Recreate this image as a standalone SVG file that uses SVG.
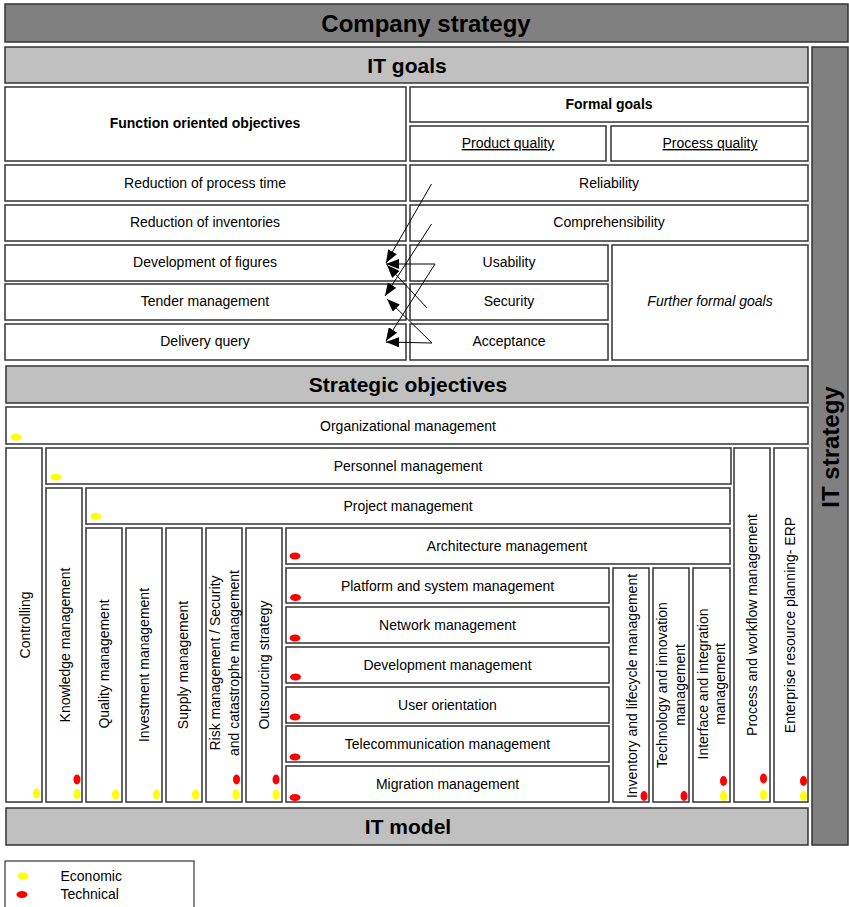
<svg xmlns="http://www.w3.org/2000/svg" width="849" height="907" viewBox="0 0 849 907">
  <style>
    .box { fill: #ffffff; stroke: #333333; stroke-width: 1.5; }
    .dark { fill: #808080; stroke: #333333; stroke-width: 1.5; }
    .light { fill: #c0c0c0; stroke: #333333; stroke-width: 1.5; }
    text { font-family: "Liberation Sans", Arial, sans-serif; font-size: 14px; fill: #000000; text-anchor: middle; }
    .head { font-weight: bold; font-size: 21px; }
    .big { font-weight: bold; font-size: 24px; }
    .sub { font-weight: bold; font-size: 14px; }
    .ul { text-decoration: underline; }
    .it { font-style: italic; }
    .legend { text-anchor: start; }
    .eco { fill: #ffff00; }
    .tec { fill: #ff0000; }
    .conn line { stroke: #000000; stroke-width: 1; marker-end: url(#arrow); }
  </style>
  <defs>
    <marker id="arrow" markerUnits="userSpaceOnUse" markerWidth="14" markerHeight="10" refX="13" refY="5" orient="auto">
      <path d="M0,0 L13,5 L0,10 Z" fill="#000000"/>
    </marker>
  </defs>

  <!-- frame bands -->
  <g id="company-strategy">
    <rect class="dark" x="5" y="4" width="843" height="38"/>
    <text class="big" x="426" y="31.5">Company strategy</text>
  </g>
  <g id="it-goals">
    <rect class="light" x="5" y="47" width="803" height="36"/>
    <text class="head" x="407" y="72.5">IT goals</text>
  </g>
  <g id="it-strategy">
    <rect class="dark" x="812" y="47" width="36" height="798"/>
    <text class="big" transform="translate(838.5,447) rotate(-90)">IT strategy</text>
  </g>

  <!-- goal headers -->
  <g id="function-objectives">
    <rect class="box" x="5" y="87" width="401" height="74"/>
    <text class="sub" x="205" y="128">Function oriented objectives</text>
  </g>
  <g id="formal-goals">
    <rect class="box" x="410" y="87" width="398" height="35"/>
    <text class="sub" x="609" y="109">Formal goals</text>
  </g>
  <g id="product-quality">
    <rect class="box" x="410" y="126" width="196" height="35"/>
    <text class="ul" x="508" y="148">Product quality</text>
  </g>
  <g id="process-quality">
    <rect class="box" x="611" y="126" width="197" height="35"/>
    <text class="ul" x="710" y="148">Process quality</text>
  </g>

  <!-- function oriented objectives -->
  <g id="process-time">
    <rect class="box" x="5" y="165" width="401" height="36"/>
    <text x="205" y="188">Reduction of process time</text>
  </g>
  <g id="inventories">
    <rect class="box" x="5" y="205" width="401" height="36"/>
    <text x="205" y="227">Reduction of inventories</text>
  </g>
  <g id="figures">
    <rect class="box" x="5" y="245" width="401" height="36"/>
    <text x="205" y="267">Development of figures</text>
  </g>
  <g id="tender">
    <rect class="box" x="5" y="284" width="401" height="36"/>
    <text x="205" y="306">Tender management</text>
  </g>
  <g id="delivery">
    <rect class="box" x="5" y="324" width="401" height="36"/>
    <text x="205" y="346">Delivery query</text>
  </g>

  <!-- formal goals -->
  <g id="reliability">
    <rect class="box" x="410" y="165" width="398" height="36"/>
    <text x="609" y="188">Reliability</text>
  </g>
  <g id="comprehensibility">
    <rect class="box" x="410" y="205" width="398" height="36"/>
    <text x="609" y="227">Comprehensibility</text>
  </g>
  <g id="usability">
    <rect class="box" x="410" y="245" width="198" height="36"/>
    <text x="509" y="267">Usability</text>
  </g>
  <g id="security">
    <rect class="box" x="410" y="284" width="198" height="36"/>
    <text x="509" y="306">Security</text>
  </g>
  <g id="acceptance">
    <rect class="box" x="410" y="324" width="198" height="36"/>
    <text x="509" y="346">Acceptance</text>
  </g>
  <g id="further-goals">
    <rect class="box" x="612" y="245" width="196" height="115"/>
    <text class="it" x="710" y="306">Further formal goals</text>
  </g>

  <!-- connectors -->
  <g id="connectors" class="conn">
    <line x1="431.5" y1="184" x2="386" y2="263"/>
    <line x1="431.5" y1="224" x2="385" y2="296"/>
    <line x1="435" y1="264" x2="386" y2="264"/>
    <line x1="435" y1="264" x2="386" y2="341"/>
    <line x1="427" y1="308" x2="387" y2="265"/>
    <line x1="432" y1="343" x2="386" y2="342"/>
    <line x1="432" y1="343" x2="387" y2="299"/>
  </g>

  <!-- strategic objectives -->
  <g id="strategic-objectives">
    <rect class="light" x="6" y="366" width="802" height="37"/>
    <text class="head" x="408" y="392">Strategic objectives</text>
  </g>
  <g id="organizational">
    <rect class="box" x="6" y="407" width="802" height="37"/>
    <text x="408" y="430.5">Organizational management</text>
    <ellipse class="eco" cx="16" cy="437" rx="5.5" ry="3.5"/>
  </g>
  <g id="controlling">
    <rect class="box" x="6" y="448" width="36" height="354"/>
    <text transform="translate(30,625) rotate(-90)">Controlling</text>
    <ellipse class="eco" cx="36.5" cy="793.5" rx="3.5" ry="5"/>
  </g>
  <g id="personnel">
    <rect class="box" x="46" y="448" width="685" height="36"/>
    <text x="408" y="471">Personnel management</text>
    <ellipse class="eco" cx="56" cy="477" rx="5.5" ry="3.5"/>
  </g>
  <g id="process-workflow">
    <rect class="box" x="734" y="448" width="36" height="354"/>
    <text transform="translate(757,625) rotate(-90)">Process and workflow management</text>
    <ellipse class="tec" cx="763.5" cy="778.5" rx="3.5" ry="5"/>
    <ellipse class="eco" cx="763.5" cy="795" rx="3.5" ry="5"/>
  </g>
  <g id="erp">
    <rect class="box" x="774" y="448" width="34" height="354"/>
    <text transform="translate(795,625) rotate(-90)">Enterprise resource planning- ERP</text>
    <ellipse class="tec" cx="803.5" cy="781" rx="3.5" ry="5"/>
    <ellipse class="eco" cx="803.5" cy="796" rx="3.5" ry="5"/>
  </g>
  <g id="knowledge">
    <rect class="box" x="46" y="488" width="36" height="314"/>
    <text transform="translate(69.5,645) rotate(-90)">Knowledge management</text>
    <ellipse class="tec" cx="77" cy="779.5" rx="3.5" ry="5"/>
    <ellipse class="eco" cx="77" cy="794" rx="3.5" ry="5"/>
  </g>
  <g id="project">
    <rect class="box" x="86" y="488" width="644" height="36"/>
    <text x="408" y="511">Project management</text>
    <ellipse class="eco" cx="96" cy="516.5" rx="5.5" ry="3.5"/>
  </g>
  <g id="quality">
    <rect class="box" x="86" y="528" width="36" height="274"/>
    <text transform="translate(109,664) rotate(-90)">Quality management</text>
    <ellipse class="eco" cx="115.5" cy="794.5" rx="3.5" ry="5"/>
  </g>
  <g id="investment">
    <rect class="box" x="126" y="528" width="36" height="274"/>
    <text transform="translate(149,665) rotate(-90)">Investment management</text>
    <ellipse class="eco" cx="156.5" cy="794.5" rx="3.5" ry="5"/>
  </g>
  <g id="supply">
    <rect class="box" x="166" y="528" width="36" height="274"/>
    <text transform="translate(188,665) rotate(-90)">Supply management</text>
    <ellipse class="eco" cx="195.5" cy="794.5" rx="3.5" ry="5"/>
  </g>
  <g id="risk">
    <rect class="box" x="206" y="528" width="36" height="274"/>
    <text transform="translate(220,663) rotate(-90)">Risk management / Security</text>
    <text transform="translate(238.5,663) rotate(-90)">and catastrophe management</text>
    <ellipse class="tec" cx="236.5" cy="779.5" rx="3.5" ry="5"/>
    <ellipse class="eco" cx="236" cy="794.5" rx="3.5" ry="5"/>
  </g>
  <g id="outsourcing">
    <rect class="box" x="246" y="528" width="36" height="274"/>
    <text transform="translate(268.5,665) rotate(-90)">Outsourcing strategy</text>
    <ellipse class="tec" cx="276" cy="779.5" rx="3.5" ry="5"/>
    <ellipse class="eco" cx="276" cy="794.5" rx="3.5" ry="5"/>
  </g>
  <g id="architecture">
    <rect class="box" x="286" y="528" width="444" height="36"/>
    <text x="507" y="551">Architecture management</text>
    <ellipse class="tec" cx="295" cy="556" rx="5.5" ry="3.5"/>
  </g>
  <g id="platform">
    <rect class="box" x="286" y="568" width="323" height="35"/>
    <text x="447.5" y="590.5">Platform and system management</text>
    <ellipse class="tec" cx="295.5" cy="597.5" rx="5.5" ry="3.5"/>
  </g>
  <g id="network">
    <rect class="box" x="286" y="607" width="323" height="36"/>
    <text x="447.5" y="630">Network management</text>
    <ellipse class="tec" cx="295" cy="638" rx="5.5" ry="3.5"/>
  </g>
  <g id="development">
    <rect class="box" x="286" y="647" width="323" height="36"/>
    <text x="447.5" y="670">Development management</text>
    <ellipse class="tec" cx="295.5" cy="677" rx="5.5" ry="3.5"/>
  </g>
  <g id="user-orientation">
    <rect class="box" x="286" y="687" width="323" height="36"/>
    <text x="447.5" y="710">User orientation</text>
    <ellipse class="tec" cx="295" cy="717" rx="5.5" ry="3.5"/>
  </g>
  <g id="telecommunication">
    <rect class="box" x="286" y="726" width="323" height="36"/>
    <text x="447.5" y="749">Telecommunication management</text>
    <ellipse class="tec" cx="295" cy="757" rx="5.5" ry="3.5"/>
  </g>
  <g id="migration">
    <rect class="box" x="286" y="766" width="323" height="36"/>
    <text x="447.5" y="789">Migration management</text>
    <ellipse class="tec" cx="295" cy="797.5" rx="5.5" ry="3.5"/>
  </g>
  <g id="inventory-lifecycle">
    <rect class="box" x="613" y="568" width="36" height="234"/>
    <text transform="translate(636.5,686) rotate(-90)">Inventory and lifecycle management</text>
    <ellipse class="tec" cx="644" cy="796" rx="3.5" ry="5"/>
  </g>
  <g id="technology-innovation">
    <rect class="box" x="653" y="568" width="36" height="234"/>
    <text transform="translate(666.5,685) rotate(-90)">Technology and innovation</text>
    <text transform="translate(685,685) rotate(-90)">management</text>
    <ellipse class="tec" cx="684" cy="796" rx="3.5" ry="5"/>
  </g>
  <g id="interface-integration">
    <rect class="box" x="693" y="568" width="37" height="234"/>
    <text transform="translate(707.5,684) rotate(-90)">Interface and integration</text>
    <text transform="translate(725,684) rotate(-90)">management</text>
    <ellipse class="tec" cx="723.5" cy="781" rx="3.5" ry="5"/>
    <ellipse class="eco" cx="723.5" cy="796" rx="3.5" ry="5"/>
  </g>

  <g id="it-model">
    <rect class="light" x="6" y="808" width="802" height="37"/>
    <text class="head" x="408" y="834">IT model</text>
  </g>

  <!-- legend -->
  <g id="legend">
    <rect x="5" y="861" width="189" height="60" fill="#ffffff" stroke="#333333" stroke-width="1.2"/>
    <ellipse class="eco" cx="23" cy="876" rx="5.5" ry="3.5"/>
    <text class="legend" x="60.5" y="880.5">Economic</text>
    <ellipse class="tec" cx="22" cy="894.5" rx="5.5" ry="3.5"/>
    <text class="legend" x="60.5" y="899">Technical</text>
  </g>
</svg>
